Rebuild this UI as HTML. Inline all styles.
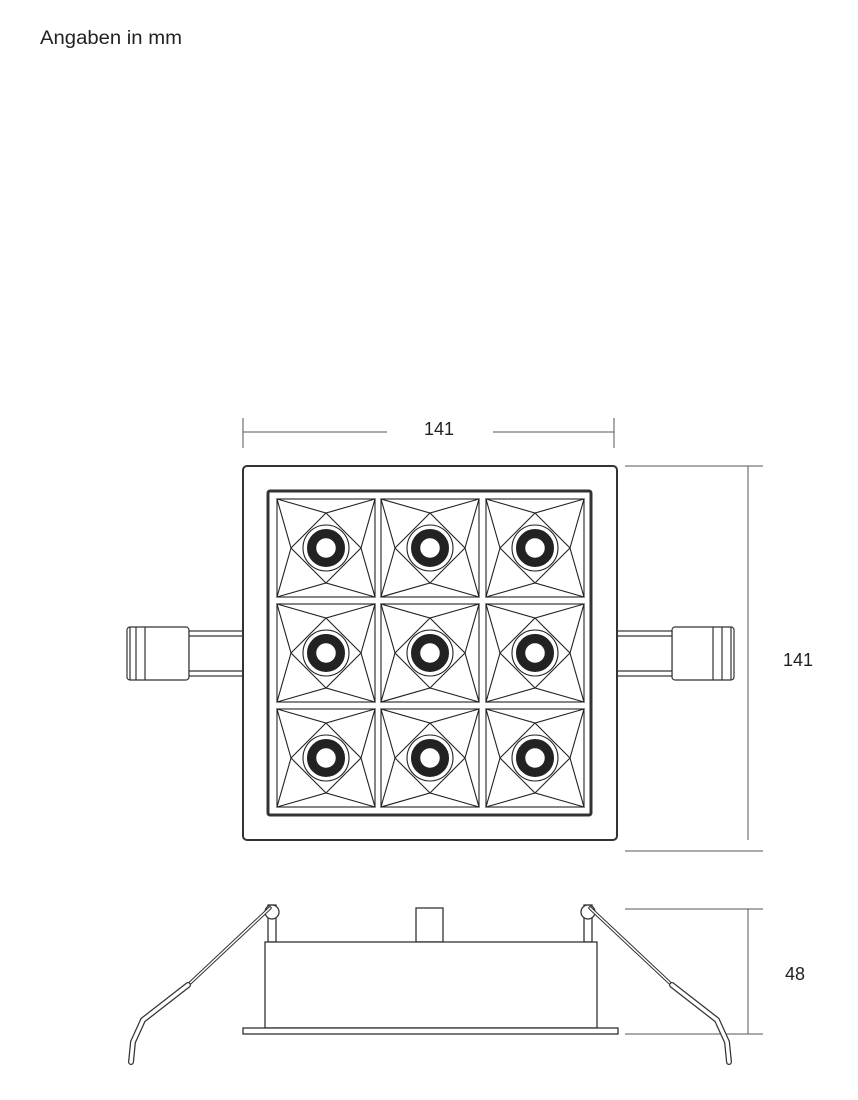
<!DOCTYPE html>
<html><head><style>body{margin:0;background:#fff}svg{display:block}text{font-family:"Liberation Sans",sans-serif;fill:#222}</style></head><body>
<svg width="858" height="1100" viewBox="0 0 858 1100" xmlns="http://www.w3.org/2000/svg">
<text x="40" y="44" font-size="19" textLength="142" lengthAdjust="spacingAndGlyphs">Angaben in mm</text>
<g stroke="#555" stroke-width="1" fill="none">
<line x1="243" y1="418" x2="243" y2="448"/><line x1="614" y1="418" x2="614" y2="448"/>
<line x1="243" y1="432" x2="387" y2="432"/><line x1="493" y1="432" x2="614" y2="432"/>
<line x1="625" y1="466" x2="763" y2="466"/><line x1="625" y1="851" x2="763" y2="851"/>
<line x1="748" y1="466" x2="748" y2="840"/>
<line x1="625" y1="909" x2="763" y2="909"/><line x1="625" y1="1034" x2="763" y2="1034"/>
<line x1="748" y1="909" x2="748" y2="1034"/>
</g>
<text x="439" y="435" font-size="18" text-anchor="middle">141</text>
<text x="798" y="666" font-size="18" text-anchor="middle">141</text>
<text x="795" y="980" font-size="18" text-anchor="middle">48</text>
<g stroke="#333" stroke-width="1.2" fill="#fff">
<rect x="127" y="627" width="62" height="53" rx="3"/><line x1="136" y1="627" x2="136" y2="680"/><line x1="145" y1="627" x2="145" y2="680"/><line x1="130" y1="627" x2="130" y2="680"/>
<rect x="189" y="631" width="55" height="45"/><line x1="189" y1="636" x2="244" y2="636"/><line x1="189" y1="671" x2="244" y2="671"/>
<rect x="672" y="627" width="62" height="53" rx="3"/><line x1="722" y1="627" x2="722" y2="680"/><line x1="713" y1="627" x2="713" y2="680"/><line x1="731" y1="627" x2="731" y2="680"/>
<rect x="617" y="631" width="55" height="45"/><line x1="617" y1="636" x2="672" y2="636"/><line x1="617" y1="671" x2="672" y2="671"/>
<rect x="243" y="466" width="374" height="374" rx="4" stroke-width="2"/>
<rect x="268" y="491" width="323" height="324" rx="2" stroke-width="3"/>
</g>
<defs><g id="c" stroke="#222" stroke-width="1.1" fill="none">
<rect x="0" y="0" width="98" height="98"/>
<path d="M0 0L49 14L98 0L84 49L98 98L49 84L0 98L14 49Z"/>
<path d="M49 14L84 49L49 84L14 49Z"/>
<circle cx="49" cy="49" r="23"/>
<circle cx="49" cy="49" r="15" stroke="#222" stroke-width="8"/>
<circle cx="49" cy="49" r="10.5" fill="#fff" stroke-width="1.5"/>
</g></defs>
<use href="#c" x="277" y="499"/><use href="#c" x="381" y="499"/><use href="#c" x="486" y="499"/>
<use href="#c" x="277" y="604"/><use href="#c" x="381" y="604"/><use href="#c" x="486" y="604"/>
<use href="#c" x="277" y="709"/><use href="#c" x="381" y="709"/><use href="#c" x="486" y="709"/>
<g stroke="#333" stroke-width="1.3" fill="#fff">
<rect x="416" y="908" width="27" height="34"/>
<rect x="268" y="905" width="8" height="37"/><rect x="584" y="905" width="8" height="37"/>
<rect x="265" y="942" width="332" height="86"/>
<rect x="243" y="1028" width="375" height="6"/>
<circle cx="272" cy="912" r="7"/><circle cx="588" cy="912" r="7"/>
</g>
<g fill="none" stroke="#333" stroke-linecap="round">
<path d="M270 908L188 985" stroke-width="3.5"/><path d="M270 908L188 985" stroke="#fff" stroke-width="1.5"/>
<path d="M188 985L143 1020L133 1042L131 1062" stroke-width="6"/><path d="M188 985L143 1020L133 1042L131 1062" stroke="#fff" stroke-width="3.5"/>
<path d="M590 908L672 985" stroke-width="3.5"/><path d="M590 908L672 985" stroke="#fff" stroke-width="1.5"/>
<path d="M672 985L717 1020L727 1042L729 1062" stroke-width="6"/><path d="M672 985L717 1020L727 1042L729 1062" stroke="#fff" stroke-width="3.5"/>
</g>
</svg>
</body></html>
